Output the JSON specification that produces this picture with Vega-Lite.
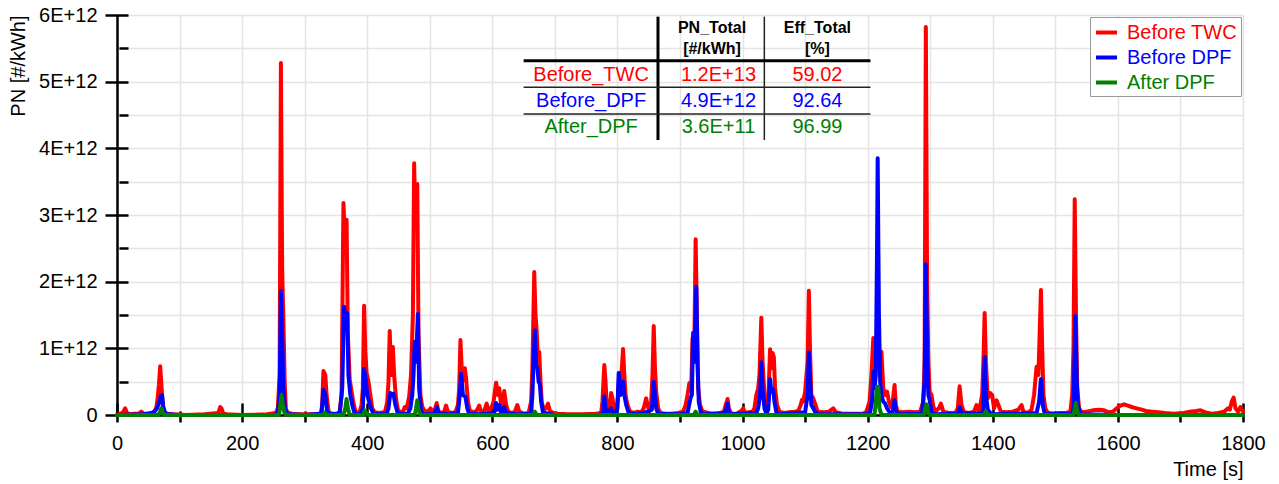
{
  "$schema": "https://vega.github.io/schema/vega-lite/v6.json",
  "width": 1126,
  "height": 400,
  "autosize": {"type": "none"},
  "padding": {"left": 117, "top": 15, "right": 36, "bottom": 69},
  "background": "white",
  "config": {
    "view": {"stroke": null},
    "font": "Liberation Sans",
    "axis": {
      "labelFontSize": 20, "titleFontSize": 20, "labelColor": "black", "titleColor": "black",
      "titleFontWeight": "normal", "tickColor": "black", "domainColor": "black",
      "gridColor": "#e4e4e4", "gridWidth": 1.5, "tickWidth": 2.5, "domainWidth": 2.5, "zindex": 0
    }
  },
  "datasets": {
    "twc": [
      {"t":0,"v":0},{"t":5,"v":0.02e12},{"t":9,"v":0.03e12},{"t":13,"v":0.1e12},{"t":16,"v":0.03e12},{"t":21,"v":0.01e12},{"t":28,"v":0.02e12},{"t":35,"v":0.02e12},{"t":39,"v":0.05e12},{"t":42,"v":0.02e12},{"t":50,"v":0.01e12},{"t":56,"v":0.03e12},{"t":60,"v":0.06e12},{"t":63,"v":0.12e12},{"t":65,"v":0.25e12},{"t":67,"v":0.45e12},{"t":69,"v":0.73e12},{"t":71,"v":0.45e12},{"t":73,"v":0.15e12},{"t":76,"v":0.04e12},{"t":80,"v":0.02e12},{"t":90,"v":0.01e12},{"t":110,"v":0},{"t":140,"v":0.01e12},{"t":162,"v":0.03e12},{"t":165,"v":0.12e12},{"t":167,"v":0.1e12},{"t":170,"v":0.02e12},{"t":176,"v":0.01e12},{"t":200,"v":0},{"t":240,"v":0.01e12},{"t":254,"v":0.03e12},{"t":257,"v":0.1e12},{"t":260,"v":0.6e12},{"t":262,"v":5.28e12},{"t":264,"v":2.2e12},{"t":266,"v":1.43e12},{"t":268,"v":0.5e12},{"t":270,"v":0.08e12},{"t":274,"v":0.03e12},{"t":280,"v":0.02e12},{"t":290,"v":0.01e12},{"t":320,"v":0.01e12},{"t":326,"v":0.03e12},{"t":328,"v":0.15e12},{"t":330,"v":0.66e12},{"t":333,"v":0.6e12},{"t":335,"v":0.3e12},{"t":338,"v":0.06e12},{"t":342,"v":0.02e12},{"t":352,"v":0.02e12},{"t":356,"v":0.05e12},{"t":359,"v":0.3e12},{"t":362,"v":3.18e12},{"t":365,"v":2.5e12},{"t":367,"v":2.93e12},{"t":369,"v":1.2e12},{"t":372,"v":0.53e12},{"t":375,"v":0.35e12},{"t":378,"v":0.18e12},{"t":381,"v":0.06e12},{"t":385,"v":0.03e12},{"t":388,"v":0.05e12},{"t":391,"v":0.15e12},{"t":393,"v":0.4e12},{"t":395,"v":1.64e12},{"t":397,"v":0.95e12},{"t":399,"v":0.63e12},{"t":402,"v":0.5e12},{"t":405,"v":0.3e12},{"t":408,"v":0.1e12},{"t":412,"v":0.04e12},{"t":419,"v":0.03e12},{"t":426,"v":0.04e12},{"t":429,"v":0.06e12},{"t":432,"v":0.2e12},{"t":434,"v":0.5e12},{"t":436,"v":1.26e12},{"t":438,"v":0.6e12},{"t":441,"v":1.02e12},{"t":443,"v":0.6e12},{"t":446,"v":0.25e12},{"t":449,"v":0.08e12},{"t":453,"v":0.04e12},{"t":457,"v":0.05e12},{"t":460,"v":0.12e12},{"t":463,"v":0.1e12},{"t":467,"v":0.27e12},{"t":470,"v":0.6e12},{"t":473,"v":1.5e12},{"t":475,"v":3.775e12},{"t":477,"v":2.8e12},{"t":480,"v":3.465e12},{"t":482,"v":1.2e12},{"t":485,"v":0.3e12},{"t":488,"v":0.12e12},{"t":492,"v":0.06e12},{"t":497,"v":0.05e12},{"t":501,"v":0.1e12},{"t":504,"v":0.05e12},{"t":508,"v":0.08e12},{"t":511,"v":0.18e12},{"t":514,"v":0.05e12},{"t":519,"v":0.03e12},{"t":523,"v":0.05e12},{"t":526,"v":0.14e12},{"t":529,"v":0.05e12},{"t":535,"v":0.03e12},{"t":541,"v":0.04e12},{"t":545,"v":0.15e12},{"t":547,"v":0.4e12},{"t":549,"v":1.125e12},{"t":552,"v":0.5e12},{"t":556,"v":0.7e12},{"t":558,"v":0.55e12},{"t":561,"v":0.2e12},{"t":564,"v":0.06e12},{"t":568,"v":0.05e12},{"t":572,"v":0.04e12},{"t":576,"v":0.08e12},{"t":579,"v":0.14e12},{"t":582,"v":0.05e12},{"t":587,"v":0.06e12},{"t":591,"v":0.17e12},{"t":594,"v":0.06e12},{"t":598,"v":0.1e12},{"t":602,"v":0.2e12},{"t":604,"v":0.35e12},{"t":606,"v":0.485e12},{"t":609,"v":0.3e12},{"t":611,"v":0.4e12},{"t":614,"v":0.15e12},{"t":616,"v":0.12e12},{"t":619,"v":0.36e12},{"t":622,"v":0.15e12},{"t":626,"v":0.04e12},{"t":632,"v":0.03e12},{"t":636,"v":0.05e12},{"t":640,"v":0.15e12},{"t":643,"v":0.05e12},{"t":650,"v":0.02e12},{"t":658,"v":0.03e12},{"t":662,"v":0.2e12},{"t":664,"v":0.7e12},{"t":667,"v":2.145e12},{"t":669,"v":1.5e12},{"t":671,"v":1.245e12},{"t":673,"v":0.8e12},{"t":675,"v":0.945e12},{"t":677,"v":0.5e12},{"t":679,"v":0.2e12},{"t":682,"v":0.08e12},{"t":686,"v":0.1e12},{"t":689,"v":0.17e12},{"t":692,"v":0.06e12},{"t":697,"v":0.03e12},{"t":705,"v":0.02e12},{"t":720,"v":0.01e12},{"t":745,"v":0.01e12},{"t":765,"v":0.02e12},{"t":774,"v":0.03e12},{"t":776,"v":0.2e12},{"t":779,"v":0.75e12},{"t":781,"v":0.5e12},{"t":783,"v":0.1e12},{"t":787,"v":0.08e12},{"t":790,"v":0.33e12},{"t":792,"v":0.25e12},{"t":795,"v":0.06e12},{"t":799,"v":0.1e12},{"t":801,"v":0.3e12},{"t":803,"v":0.63e12},{"t":805,"v":0.45e12},{"t":807,"v":0.7e12},{"t":809,"v":0.99e12},{"t":811,"v":0.6e12},{"t":813,"v":0.3e12},{"t":816,"v":0.15e12},{"t":820,"v":0.05e12},{"t":826,"v":0.03e12},{"t":832,"v":0.05e12},{"t":838,"v":0.04e12},{"t":842,"v":0.1e12},{"t":846,"v":0.25e12},{"t":848,"v":0.15e12},{"t":851,"v":0.06e12},{"t":854,"v":0.2e12},{"t":856,"v":0.6e12},{"t":858,"v":1.335e12},{"t":860,"v":0.7e12},{"t":862,"v":0.34e12},{"t":865,"v":0.1e12},{"t":869,"v":0.03e12},{"t":877,"v":0.02e12},{"t":887,"v":0.02e12},{"t":897,"v":0.03e12},{"t":905,"v":0.05e12},{"t":909,"v":0.15e12},{"t":912,"v":0.3e12},{"t":915,"v":0.48e12},{"t":918,"v":0.4e12},{"t":920,"v":1.155e12},{"t":922,"v":0.9e12},{"t":923,"v":1.1e12},{"t":925,"v":2.635e12},{"t":927,"v":1.5e12},{"t":929,"v":0.4e12},{"t":932,"v":0.15e12},{"t":936,"v":0.05e12},{"t":942,"v":0.04e12},{"t":950,"v":0.02e12},{"t":962,"v":0.02e12},{"t":970,"v":0.05e12},{"t":973,"v":0.15e12},{"t":976,"v":0.24e12},{"t":978,"v":0.1e12},{"t":982,"v":0.02e12},{"t":990,"v":0.02e12},{"t":998,"v":0.06e12},{"t":1001,"v":0.1e12},{"t":1004,"v":0.03e12},{"t":1010,"v":0.04e12},{"t":1016,"v":0.05e12},{"t":1019,"v":0.1e12},{"t":1022,"v":0.3e12},{"t":1025,"v":0.4e12},{"t":1027,"v":0.6e12},{"t":1030,"v":1.46e12},{"t":1032,"v":0.8e12},{"t":1035,"v":0.3e12},{"t":1038,"v":0.1e12},{"t":1041,"v":0.2e12},{"t":1044,"v":0.985e12},{"t":1046,"v":0.7e12},{"t":1048,"v":0.93e12},{"t":1050,"v":0.87e12},{"t":1052,"v":0.4e12},{"t":1055,"v":0.15e12},{"t":1059,"v":0.05e12},{"t":1066,"v":0.03e12},{"t":1075,"v":0.04e12},{"t":1083,"v":0.05e12},{"t":1089,"v":0.06e12},{"t":1093,"v":0.15e12},{"t":1095,"v":0.23e12},{"t":1097,"v":0.2e12},{"t":1100,"v":0.35e12},{"t":1104,"v":0.8e12},{"t":1106,"v":1.865e12},{"t":1108,"v":0.9e12},{"t":1110,"v":0.3e12},{"t":1113,"v":0.25e12},{"t":1116,"v":0.17e12},{"t":1120,"v":0.05e12},{"t":1130,"v":0.04e12},{"t":1138,"v":0.05e12},{"t":1145,"v":0.1e12},{"t":1149,"v":0.04e12},{"t":1160,"v":0.02e12},{"t":1178,"v":0.02e12},{"t":1193,"v":0.02e12},{"t":1198,"v":0.05e12},{"t":1203,"v":0.2e12},{"t":1206,"v":0.6e12},{"t":1209,"v":1.155e12},{"t":1211,"v":0.6e12},{"t":1214,"v":1.0e12},{"t":1217,"v":0.8e12},{"t":1220,"v":0.6e12},{"t":1222,"v":0.95e12},{"t":1225,"v":0.4e12},{"t":1228,"v":0.3e12},{"t":1231,"v":0.35e12},{"t":1234,"v":0.2e12},{"t":1237,"v":0.12e12},{"t":1240,"v":0.2e12},{"t":1243,"v":0.45e12},{"t":1245,"v":0.15e12},{"t":1248,"v":0.05e12},{"t":1256,"v":0.04e12},{"t":1266,"v":0.05e12},{"t":1276,"v":0.04e12},{"t":1284,"v":0.05e12},{"t":1289,"v":0.2e12},{"t":1291,"v":0.8e12},{"t":1293,"v":5.82e12},{"t":1295,"v":2.0e12},{"t":1297,"v":0.8e12},{"t":1299,"v":0.35e12},{"t":1302,"v":0.3e12},{"t":1305,"v":0.12e12},{"t":1309,"v":0.06e12},{"t":1314,"v":0.1e12},{"t":1317,"v":0.17e12},{"t":1321,"v":0.05e12},{"t":1330,"v":0.03e12},{"t":1340,"v":0.03e12},{"t":1344,"v":0.1e12},{"t":1347,"v":0.43e12},{"t":1350,"v":0.15e12},{"t":1354,"v":0.04e12},{"t":1362,"v":0.03e12},{"t":1370,"v":0.05e12},{"t":1374,"v":0.15e12},{"t":1378,"v":0.05e12},{"t":1383,"v":0.3e12},{"t":1385,"v":0.8e12},{"t":1387,"v":1.53e12},{"t":1389,"v":0.8e12},{"t":1392,"v":0.25e12},{"t":1396,"v":0.33e12},{"t":1399,"v":0.3e12},{"t":1402,"v":0.1e12},{"t":1406,"v":0.22e12},{"t":1409,"v":0.15e12},{"t":1413,"v":0.05e12},{"t":1422,"v":0.04e12},{"t":1432,"v":0.05e12},{"t":1441,"v":0.08e12},{"t":1446,"v":0.15e12},{"t":1449,"v":0.05e12},{"t":1456,"v":0.03e12},{"t":1462,"v":0.08e12},{"t":1466,"v":0.3e12},{"t":1470,"v":0.725e12},{"t":1473,"v":0.6e12},{"t":1477,"v":1.875e12},{"t":1479,"v":1.0e12},{"t":1481,"v":0.3e12},{"t":1484,"v":0.1e12},{"t":1488,"v":0.03e12},{"t":1497,"v":0.02e12},{"t":1507,"v":0.03e12},{"t":1517,"v":0.03e12},{"t":1524,"v":0.05e12},{"t":1527,"v":0.3e12},{"t":1529,"v":1.0e12},{"t":1531,"v":3.235e12},{"t":1533,"v":1.5e12},{"t":1535,"v":0.4e12},{"t":1538,"v":0.1e12},{"t":1542,"v":0.04e12},{"t":1550,"v":0.05e12},{"t":1560,"v":0.07e12},{"t":1570,"v":0.08e12},{"t":1578,"v":0.07e12},{"t":1585,"v":0.04e12},{"t":1592,"v":0.05e12},{"t":1598,"v":0.1e12},{"t":1604,"v":0.14e12},{"t":1610,"v":0.16e12},{"t":1616,"v":0.14e12},{"t":1622,"v":0.12e12},{"t":1630,"v":0.1e12},{"t":1638,"v":0.08e12},{"t":1645,"v":0.06e12},{"t":1655,"v":0.05e12},{"t":1665,"v":0.04e12},{"t":1675,"v":0.03e12},{"t":1690,"v":0.02e12},{"t":1705,"v":0.03e12},{"t":1715,"v":0.05e12},{"t":1725,"v":0.06e12},{"t":1732,"v":0.07e12},{"t":1740,"v":0.04e12},{"t":1750,"v":0.02e12},{"t":1760,"v":0.03e12},{"t":1770,"v":0.05e12},{"t":1776,"v":0.1e12},{"t":1779,"v":0.08e12},{"t":1782,"v":0.2e12},{"t":1785,"v":0.26e12},{"t":1788,"v":0.1e12},{"t":1792,"v":0.05e12},{"t":1796,"v":0.12e12},{"t":1800,"v":0.05e12}
    ],
    "dpfin": [
      {"t":0,"v":0},{"t":40,"v":0.01e12},{"t":56,"v":0.03e12},{"t":60,"v":0.05e12},{"t":64,"v":0.1e12},{"t":67,"v":0.18e12},{"t":70,"v":0.28e12},{"t":72,"v":0.3e12},{"t":74,"v":0.12e12},{"t":77,"v":0.03e12},{"t":82,"v":0.01e12},{"t":100,"v":0},{"t":250,"v":0},{"t":257,"v":0.02e12},{"t":260,"v":0.3e12},{"t":262,"v":1.86e12},{"t":264,"v":1.2e12},{"t":266,"v":0.42e12},{"t":268,"v":0.15e12},{"t":270,"v":0.04e12},{"t":274,"v":0.01e12},{"t":300,"v":0},{"t":327,"v":0.02e12},{"t":330,"v":0.375e12},{"t":333,"v":0.3e12},{"t":336,"v":0.05e12},{"t":340,"v":0.01e12},{"t":356,"v":0.02e12},{"t":360,"v":0.4e12},{"t":363,"v":1.625e12},{"t":365,"v":1.3e12},{"t":368,"v":1.53e12},{"t":370,"v":0.6e12},{"t":373,"v":0.3e12},{"t":376,"v":0.15e12},{"t":379,"v":0.05e12},{"t":383,"v":0.01e12},{"t":390,"v":0.02e12},{"t":393,"v":0.1e12},{"t":395,"v":0.69e12},{"t":398,"v":0.5e12},{"t":400,"v":0.3e12},{"t":403,"v":0.2e12},{"t":406,"v":0.1e12},{"t":410,"v":0.02e12},{"t":420,"v":0.01e12},{"t":431,"v":0.02e12},{"t":434,"v":0.1e12},{"t":437,"v":0.33e12},{"t":440,"v":0.3e12},{"t":442,"v":0.32e12},{"t":445,"v":0.15e12},{"t":449,"v":0.02e12},{"t":465,"v":0.02e12},{"t":469,"v":0.1e12},{"t":472,"v":0.3e12},{"t":474,"v":0.6e12},{"t":476,"v":1.1e12},{"t":478,"v":0.8e12},{"t":481,"v":1.515e12},{"t":483,"v":0.4e12},{"t":486,"v":0.06e12},{"t":490,"v":0.01e12},{"t":508,"v":0.02e12},{"t":511,"v":0.12e12},{"t":514,"v":0.03e12},{"t":530,"v":0.01e12},{"t":545,"v":0.03e12},{"t":548,"v":0.3e12},{"t":550,"v":0.62e12},{"t":553,"v":0.3e12},{"t":557,"v":0.27e12},{"t":560,"v":0.1e12},{"t":563,"v":0.02e12},{"t":580,"v":0.01e12},{"t":603,"v":0.03e12},{"t":606,"v":0.18e12},{"t":608,"v":0.08e12},{"t":611,"v":0.15e12},{"t":614,"v":0.03e12},{"t":617,"v":0.05e12},{"t":619,"v":0.12e12},{"t":622,"v":0.03e12},{"t":640,"v":0.01e12},{"t":662,"v":0.02e12},{"t":664,"v":0.3e12},{"t":666,"v":0.84e12},{"t":668,"v":1.27e12},{"t":670,"v":0.75e12},{"t":672,"v":0.7e12},{"t":674,"v":0.5e12},{"t":676,"v":0.46e12},{"t":678,"v":0.2e12},{"t":681,"v":0.04e12},{"t":689,"v":0.02e12},{"t":700,"v":0},{"t":770,"v":0},{"t":777,"v":0.02e12},{"t":779,"v":0.28e12},{"t":781,"v":0.1e12},{"t":784,"v":0.02e12},{"t":790,"v":0.1e12},{"t":792,"v":0.05e12},{"t":797,"v":0.02e12},{"t":800,"v":0.1e12},{"t":802,"v":0.63e12},{"t":805,"v":0.3e12},{"t":807,"v":0.4e12},{"t":809,"v":0.5e12},{"t":811,"v":0.3e12},{"t":814,"v":0.15e12},{"t":818,"v":0.03e12},{"t":830,"v":0.01e12},{"t":846,"v":0.04e12},{"t":855,"v":0.08e12},{"t":858,"v":0.5e12},{"t":860,"v":0.3e12},{"t":862,"v":0.1e12},{"t":865,"v":0.02e12},{"t":900,"v":0.01e12},{"t":912,"v":0.03e12},{"t":917,"v":0.26e12},{"t":919,"v":0.3e12},{"t":921,"v":1.235e12},{"t":923,"v":0.8e12},{"t":926,"v":1.925e12},{"t":928,"v":0.8e12},{"t":930,"v":0.2e12},{"t":933,"v":0.05e12},{"t":937,"v":0.01e12},{"t":972,"v":0.03e12},{"t":976,"v":0.17e12},{"t":978,"v":0.05e12},{"t":981,"v":0.01e12},{"t":1022,"v":0.03e12},{"t":1025,"v":0.1e12},{"t":1028,"v":0.3e12},{"t":1030,"v":0.79e12},{"t":1032,"v":0.4e12},{"t":1035,"v":0.1e12},{"t":1038,"v":0.02e12},{"t":1041,"v":0.08e12},{"t":1044,"v":0.54e12},{"t":1046,"v":0.35e12},{"t":1049,"v":0.38e12},{"t":1051,"v":0.2e12},{"t":1054,"v":0.04e12},{"t":1060,"v":0.01e12},{"t":1100,"v":0.04e12},{"t":1104,"v":0.3e12},{"t":1106,"v":0.94e12},{"t":1108,"v":0.5e12},{"t":1110,"v":0.15e12},{"t":1113,"v":0.1e12},{"t":1116,"v":0.05e12},{"t":1120,"v":0.01e12},{"t":1200,"v":0.01e12},{"t":1204,"v":0.05e12},{"t":1207,"v":0.2e12},{"t":1209,"v":0.65e12},{"t":1211,"v":0.4e12},{"t":1213,"v":0.6e12},{"t":1215,"v":2.5e12},{"t":1216,"v":3.85e12},{"t":1218,"v":1.5e12},{"t":1220,"v":0.5e12},{"t":1222,"v":0.3e12},{"t":1225,"v":0.2e12},{"t":1228,"v":0.17e12},{"t":1231,"v":0.1e12},{"t":1236,"v":0.03e12},{"t":1240,"v":0.05e12},{"t":1243,"v":0.22e12},{"t":1245,"v":0.08e12},{"t":1248,"v":0.01e12},{"t":1287,"v":0.02e12},{"t":1291,"v":0.5e12},{"t":1293,"v":2.26e12},{"t":1295,"v":1.0e12},{"t":1297,"v":0.3e12},{"t":1299,"v":0.23e12},{"t":1302,"v":0.05e12},{"t":1306,"v":0.01e12},{"t":1344,"v":0.02e12},{"t":1347,"v":0.12e12},{"t":1350,"v":0.03e12},{"t":1383,"v":0.02e12},{"t":1385,"v":0.1e12},{"t":1387,"v":0.87e12},{"t":1389,"v":0.3e12},{"t":1392,"v":0.08e12},{"t":1396,"v":0.03e12},{"t":1400,"v":0.01e12},{"t":1470,"v":0.03e12},{"t":1474,"v":0.2e12},{"t":1477,"v":0.54e12},{"t":1480,"v":0.15e12},{"t":1483,"v":0.02e12},{"t":1527,"v":0.02e12},{"t":1529,"v":0.1e12},{"t":1530,"v":0.6e12},{"t":1532,"v":1.485e12},{"t":1534,"v":0.6e12},{"t":1536,"v":0.15e12},{"t":1540,"v":0.01e12},{"t":1600,"v":0},{"t":1800,"v":0}
    ],
    "dpfout": [
      {"t":0,"v":0},{"t":66,"v":0},{"t":69,"v":0.05e12},{"t":71,"v":0.1e12},{"t":73,"v":0.04e12},{"t":76,"v":0},{"t":259,"v":0},{"t":261,"v":0.15e12},{"t":263,"v":0.3e12},{"t":265,"v":0.15e12},{"t":268,"v":0.02e12},{"t":272,"v":0},{"t":330,"v":0},{"t":332,"v":0.04e12},{"t":335,"v":0},{"t":362,"v":0},{"t":365,"v":0.1e12},{"t":367,"v":0.24e12},{"t":369,"v":0.1e12},{"t":372,"v":0},{"t":394,"v":0},{"t":396,"v":0.07e12},{"t":399,"v":0.02e12},{"t":402,"v":0},{"t":476,"v":0},{"t":478,"v":0.1e12},{"t":480,"v":0.22e12},{"t":482,"v":0.08e12},{"t":485,"v":0},{"t":665,"v":0},{"t":668,"v":0.05e12},{"t":671,"v":0},{"t":922,"v":0},{"t":925,"v":0.05e12},{"t":928,"v":0},{"t":1211,"v":0},{"t":1213,"v":0.2e12},{"t":1215,"v":0.425e12},{"t":1217,"v":0.42e12},{"t":1219,"v":0.1e12},{"t":1222,"v":0},{"t":1290,"v":0},{"t":1292,"v":0.1e12},{"t":1294,"v":0.16e12},{"t":1296,"v":0.05e12},{"t":1299,"v":0},{"t":1386,"v":0},{"t":1389,"v":0.06e12},{"t":1392,"v":0},{"t":1529,"v":0},{"t":1531,"v":0.1e12},{"t":1533,"v":0.18e12},{"t":1535,"v":0.05e12},{"t":1538,"v":0},{"t":1800,"v":0}
    ],
    "table": [
      {"row": "Before_TWC", "pn": "1.2E+13", "eff": "59.02"},
      {"row": "Before_DPF", "pn": "4.9E+12", "eff": "92.64"},
      {"row": "After_DPF", "pn": "3.6E+11", "eff": "96.99"}
    ]
  },
  "layer": [
    {
      "layer": [
        {
          "data": {"name": "twc"},
          "mark": {"type": "line", "strokeWidth": 4, "strokeJoin": "round", "strokeCap": "round"},
          "encoding": {
            "x": {"field": "t", "type": "quantitative", "scale": {"domain": [0, 1800], "nice": false, "zero": false},
              "axis": {"orient": "bottom", "offset": -12, "values": [0,200,400,600,800,1000,1200,1400,1600,1800], "format": "d",
                "tickSize": 19, "domain": false, "grid": false, "labelPadding": 11, "labelFlush": false, "labelOverlap": false,
                "title": "Time [s]", "titleAnchor": "end", "titlePadding": 6, "zindex": 0}},
            "y": {"field": "v", "type": "quantitative", "scale": {"domain": [0, 6e12], "nice": false},
              "axis": {"orient": "left", "offset": -11, "values": [0,1e12,2e12,3e12,4e12,5e12,6e12], "tickSize": 23,
                "domain": false, "grid": false, "labelPadding": 8, "labelOverlap": false, "labelFlush": false,
                "labelExpr": "datum.value == 0 ? '0' : replace(format(datum.value, '.0e'), 'e', 'E')",
                "title": "PN [#/kWh]", "titleAnchor": "end", "titlePadding": 10, "zindex": 0}},
            "color": {"datum": "Before TWC", "type": "nominal",
              "scale": {"domain": ["Before TWC", "Before DPF", "After DPF"], "range": ["#ff0000", "#0000ff", "#008000"]},
              "legend": {"title": null, "orient": "top-right", "offset": 2, "symbolType": "stroke", "symbolStrokeWidth": 4,
                "symbolSize": 440, "symbolOffset": 1, "labelFontSize": 20, "labelOffset": 8, "padding": 3, "rowPadding": 2,
                "strokeColor": "#999999", "fillColor": "white", "labelLimit": 300,
                "encode": {"labels": {"update": {"fill": {"scale": "color", "field": "value"}}}}}}
          }
        },
        {
          "data": {"name": "dpfin"},
          "mark": {"type": "line", "strokeWidth": 4, "strokeJoin": "round", "strokeCap": "round"},
          "encoding": {
            "x": {"field": "t", "type": "quantitative", "scale": {"domain": [0, 1800], "nice": false, "zero": false},
              "axis": {"orient": "bottom", "offset": -4, "values": [100,300,500,700,900,1100,1300,1500,1700],
                "tickSize": 11, "domain": false, "labels": false, "grid": false, "title": null, "zindex": 0}},
            "y": {"field": "v", "type": "quantitative", "scale": {"domain": [0, 6e12], "nice": false},
              "axis": {"orient": "left", "offset": -11, "values": [0.5e12,1.5e12,2.5e12,3.5e12,4.5e12,5.5e12],
                "tickSize": 9, "domain": false, "labels": false, "grid": false, "title": null, "zindex": 0}},
            "color": {"datum": "Before DPF", "type": "nominal"}
          }
        },
        {
          "data": {"name": "dpfout"},
          "mark": {"type": "line", "strokeWidth": 4, "strokeJoin": "round", "strokeCap": "round"},
          "encoding": {
            "x": {"field": "t", "type": "quantitative", "scale": {"domain": [0, 1800], "nice": false, "zero": false},
              "axis": {"orient": "bottom", "offset": 0, "values": [0,100,200,300,400,500,600,700,800,900,1000,1100,1200,1300,1400,1500,1600,1700,1800],
                "ticks": false, "labels": false, "domain": true, "grid": true, "title": null, "zindex": 0}},
            "y": {"field": "v", "type": "quantitative", "scale": {"domain": [0, 6e12], "nice": false},
              "axis": {"orient": "left", "offset": 0, "values": [0,0.5e12,1e12,1.5e12,2e12,2.5e12,3e12,3.5e12,4e12,4.5e12,5e12,5.5e12,6e12],
                "ticks": false, "labels": false, "domain": true, "grid": true, "title": null, "zindex": 0}},
            "color": {"datum": "After DPF", "type": "nominal"}
          }
        },
        {
          "data": {"values": [{}]},
          "mark": {"type": "rule", "strokeWidth": 3, "color": "black"},
          "encoding": {
            "x": {"datum": 864.8, "type": "quantitative", "axis": null},
            "y": {"datum": 5.975e12, "type": "quantitative", "axis": null},
            "y2": {"datum": 4.125e12}
          }
        },
        {
          "data": {"values": [{}]},
          "mark": {"type": "rule", "strokeWidth": 1.5, "color": "#222222"},
          "encoding": {
            "x": {"datum": 1034.8, "type": "quantitative", "axis": null},
            "y": {"datum": 5.975e12, "type": "quantitative", "axis": null},
            "y2": {"datum": 4.125e12}
          }
        },
        {
          "data": {"values": [{}]},
          "mark": {"type": "rule", "strokeWidth": 3, "color": "black"},
          "encoding": {
            "x": {"datum": 650, "type": "quantitative", "axis": null},
            "x2": {"datum": 1204.5},
            "y": {"datum": 5.3145e12, "type": "quantitative", "axis": null}
          }
        },
        {
          "data": {"values": [{}]},
          "mark": {"type": "rule", "strokeWidth": 1.5, "color": "#222222"},
          "encoding": {
            "x": {"datum": 650, "type": "quantitative", "axis": null},
            "x2": {"datum": 1204.5},
            "y": {"datum": 4.9155e12, "type": "quantitative", "axis": null}
          }
        },
        {
          "data": {"values": [{}]},
          "mark": {"type": "rule", "strokeWidth": 1.5, "color": "#222222"},
          "encoding": {
            "x": {"datum": 650, "type": "quantitative", "axis": null},
            "x2": {"datum": 1204.5},
            "y": {"datum": 4.515e12, "type": "quantitative", "axis": null}
          }
        },
        {
          "data": {"values": [{"h": "PN_Total\n[#/kWh]"}]},
          "mark": {"type": "text", "fontSize": 16, "fontWeight": "bold", "color": "black", "align": "center", "baseline": "middle", "lineBreak": "\n", "lineHeight": 21},
          "encoding": {
            "x": {"datum": 951.2, "type": "quantitative", "axis": null},
            "y": {"datum": 5.8e12, "type": "quantitative", "axis": null},
            "text": {"field": "h"}
          }
        },
        {
          "data": {"values": [{"h": "Eff_Total\n[%]"}]},
          "mark": {"type": "text", "fontSize": 16, "fontWeight": "bold", "color": "black", "align": "center", "baseline": "middle", "lineBreak": "\n", "lineHeight": 21},
          "encoding": {
            "x": {"datum": 1119.7, "type": "quantitative", "axis": null},
            "y": {"datum": 5.8e12, "type": "quantitative", "axis": null},
            "text": {"field": "h"}
          }
        }
      ],
      "resolve": {"axis": {"x": "independent", "y": "independent"}}
    },
    {
      "data": {"name": "table"},
      "mark": {"type": "text", "fontSize": 20, "align": "center", "baseline": "middle"},
      "encoding": {
        "x": {"datum": 757.9, "type": "quantitative", "scale": {"domain": [0, 1800], "nice": false, "zero": false}, "axis": null},
        "y": {"field": "row", "type": "nominal", "scale": {"type": "point", "domain": ["Before_TWC", "Before_DPF", "After_DPF"], "range": [60, 112.3], "padding": 0}, "axis": null},
        "text": {"field": "row"},
        "fill": {"field": "row", "type": "nominal", "scale": {"domain": ["Before_TWC", "Before_DPF", "After_DPF"], "range": ["#ff0000", "#0000ff", "#008000"]}, "legend": null}
      }
    },
    {
      "data": {"name": "table"},
      "mark": {"type": "text", "fontSize": 20, "align": "center", "baseline": "middle"},
      "encoding": {
        "x": {"datum": 961.5, "type": "quantitative", "scale": {"domain": [0, 1800], "nice": false, "zero": false}, "axis": null},
        "y": {"field": "row", "type": "nominal", "scale": {"type": "point", "domain": ["Before_TWC", "Before_DPF", "After_DPF"], "range": [60, 112.3], "padding": 0}, "axis": null},
        "text": {"field": "pn"},
        "fill": {"field": "row", "type": "nominal", "legend": null}
      }
    },
    {
      "data": {"name": "table"},
      "mark": {"type": "text", "fontSize": 20, "align": "center", "baseline": "middle"},
      "encoding": {
        "x": {"datum": 1119.7, "type": "quantitative", "scale": {"domain": [0, 1800], "nice": false, "zero": false}, "axis": null},
        "y": {"field": "row", "type": "nominal", "scale": {"type": "point", "domain": ["Before_TWC", "Before_DPF", "After_DPF"], "range": [60, 112.3], "padding": 0}, "axis": null},
        "text": {"field": "eff"},
        "fill": {"field": "row", "type": "nominal", "legend": null}
      }
    }
  ],
  "resolve": {"scale": {"y": "independent"}, "axis": {"x": "independent", "y": "independent"}}
}
